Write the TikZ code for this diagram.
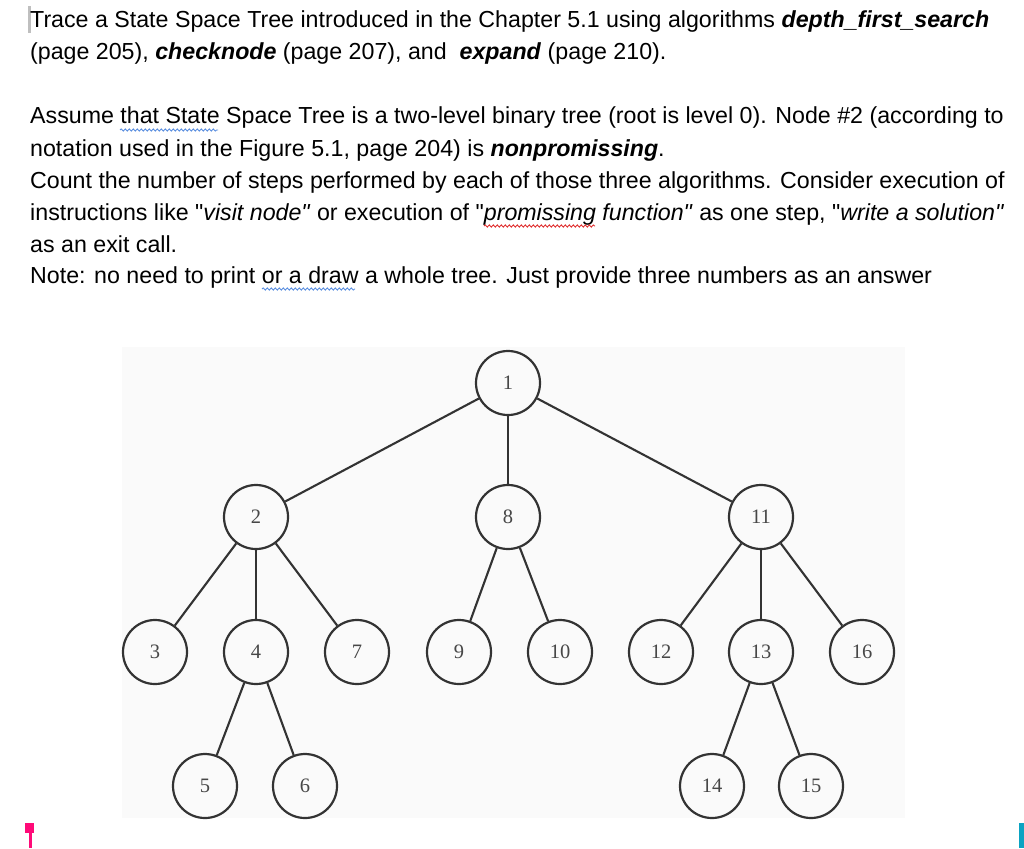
\documentclass[tikz,border=0pt]{standalone}
\usepackage{fontspec}
\setmainfont{Liberation Sans}[Ligatures=TeXOff]
\newfontfamily\treefont{Liberation Serif}
\usepackage{xcolor}
\usetikzlibrary{positioning,decorations.pathmorphing}
\definecolor{markpink}{HTML}{FF0A78}
\definecolor{markcyan}{HTML}{0BA3C2}
\definecolor{spellblue}{HTML}{5B8FE0}
\definecolor{spellred}{HTML}{E03030}
\tikzstyle{vert}=[circle, draw=black!80, line width=2.2pt, minimum size=64pt,
  inner sep=0pt, text=black!72, font=\treefont\fontsize{20.5}{20.5}\selectfont]
\tikzstyle{edge}=[draw=black!80, line width=2.1pt]
\tikzstyle{textline}=[anchor=base west, inner sep=0pt, font=\fontsize{23.2}{32}\selectfont]
\tikzstyle{squig}=[decorate, decoration={snake, amplitude=1.1pt, segment length=4pt}, line width=0.9pt]

\begin{document}
\begin{tikzpicture}[x=1pt, y=-1pt]
\useasboundingbox (0,0) rectangle (1024,848);
\fill[white] (0,0) rectangle (1024,848);
\fill[black!2] (122,347) rectangle (905,818);
\fill[black!25] (28,6) rectangle (31,33);
% question text
\node (q1) [textline] at (30,28) {Trace a State Space Tree introduced in the Chapter 5.1 using algorithms \textbf{\textit{depth\_first\_search}}};
\node (q2) [textline] at (30,60) {(page 205), \textbf{\textit{checknode}} (page 207), and\ \ \textbf{\textit{expand}} (page 210).};
\node (q3) [textline] at (30,124) {Assume that State Space Tree is a two-level binary tree (root is level 0). Node \#2 (according to};
\node (q4) [textline] at (30,156) {notation used in the Figure 5.1, page 204) is \textbf{\textit{nonpromissing}}.};
\node (q5) [textline] at (30,188) {Count the number of steps performed by each of those three algorithms. Consider execution of};
\node (q6) [textline] at (30,220) {instructions like "\textit{visit node"} or execution of "\textit{promissing function"} as one step, "\textit{write a solution"}};
\node (q7) [textline] at (30,252) {as an exit call.};
\node (q8) [textline] at (30,283) {Note: no need to print or a draw a whole tree. Just provide three numbers as an answer};
% spell marks
\draw[squig, spellblue] (120,130) -- (218,130);
\draw[squig, spellred] (484,226) -- (595,226);
\draw[squig, spellblue] (262,289) -- (355,289);
% tree
\node (n1) [vert] at (508,383) {1};
\node (n2) [vert] at (256,517) {2};
\node (n8) [vert] at (508,517) {8};
\node (n11) [vert] at (761,517) {11};
\node (n3) [vert] at (155,652) {3};
\node (n4) [vert] at (256,652) {4};
\node (n7) [vert] at (357,652) {7};
\node (n9) [vert] at (459,652) {9};
\node (n10) [vert] at (560,652) {10};
\node (n12) [vert] at (661,652) {12};
\node (n13) [vert] at (761,652) {13};
\node (n16) [vert] at (862,652) {16};
\node (n5) [vert] at (205,786) {5};
\node (n6) [vert] at (305,786) {6};
\node (n14) [vert] at (712,786) {14};
\node (n15) [vert] at (811,786) {15};
\draw[edge] (n1)--(n2);
\draw[edge] (n1)--(n8);
\draw[edge] (n1)--(n11);
\draw[edge] (n2)--(n3);
\draw[edge] (n2)--(n4);
\draw[edge] (n2)--(n7);
\draw[edge] (n4)--(n5);
\draw[edge] (n4)--(n6);
\draw[edge] (n8)--(n9);
\draw[edge] (n8)--(n10);
\draw[edge] (n11)--(n12);
\draw[edge] (n11)--(n13);
\draw[edge] (n11)--(n16);
\draw[edge] (n13)--(n14);
\draw[edge] (n13)--(n15);
% page marks
\fill[markpink] (25,823) rectangle (34,833);
\fill[markpink] (29,833) rectangle (32,848);
\fill[markcyan] (1019,823) rectangle (1024,848);
\end{tikzpicture}
\end{document}
